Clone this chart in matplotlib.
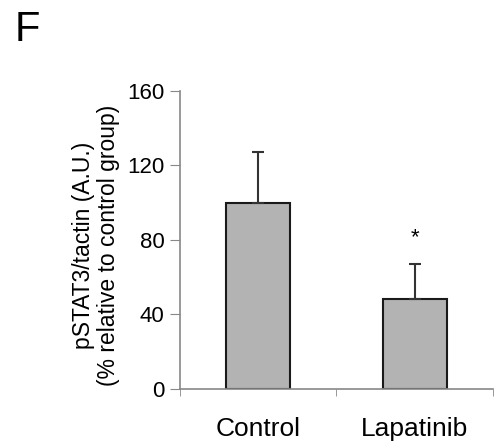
import numpy as np
import matplotlib.pyplot as plt

plt.rcParams['font.family'] = ['Liberation Sans', 'DejaVu Sans']

groups = ['Control', 'Lapatinib']
means = [100, 48]
errors = [27, 19]
yticks = [0, 40, 80, 120, 160]

fig = plt.figure(figsize=(5.04, 4.48), dpi=100)
ax = fig.add_axes([0.357, 0.132, 0.621, 0.665])

x = np.arange(len(groups))
ax.bar(x, means, width=0.41, color='#b3b3b3', edgecolor='#1a1a1a', linewidth=1.5)
ax.errorbar(x, means, yerr=[np.zeros(len(means)), errors], fmt='none',
            ecolor='#333333', elinewidth=1.5, capsize=4, capthick=1.5)
ax.text(1, means[1] + errors[1] + 14, '*', ha='center', va='center', fontsize=16)

ax.set_xlim(-0.5, 1.5)
ax.set_ylim(0, 160)
ax.set_yticks(yticks)
ax.set_xticks(x)
ax.set_xticklabels(groups, fontsize=19)
ax.set_xticks([-0.5, 0.5, 1.5], minor=True)
ax.tick_params(axis='x', which='major', length=0, pad=20)
ax.tick_params(axis='x', which='minor', length=5, color='#888888', direction='out')
ax.tick_params(axis='y', labelsize=16, length=7, color='#888888', pad=4)

for s in ['top', 'right']:
    ax.spines[s].set_visible(False)
for s in ['left', 'bottom']:
    ax.spines[s].set_color('#888888')
    ax.spines[s].set_linewidth(1.2)

# two-line y label, a bit tighter than default spacing
ax.set_ylabel('pSTAT3/tactin (A.U.)\n(% relative to control group)', fontsize=16.5,
              linespacing=1.15)
ax.yaxis.set_label_coords(-0.19, 0.48)

fig.text(0.03, 0.933, 'F', fontsize=30, va='center')

plt.savefig('out.png', dpi=100)
